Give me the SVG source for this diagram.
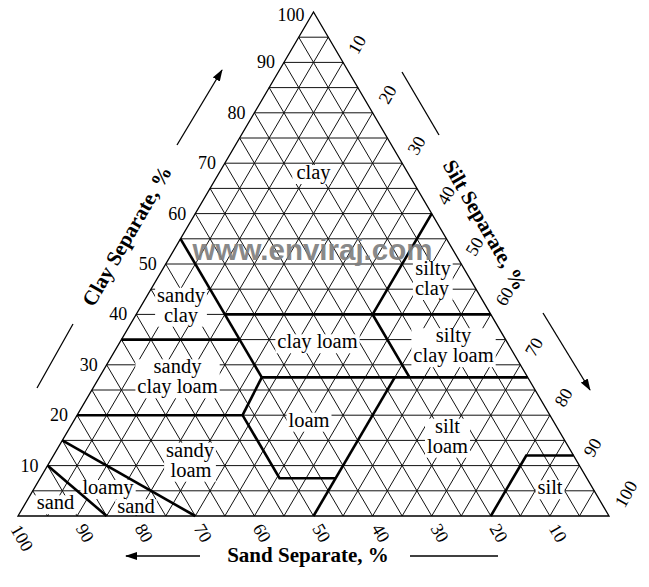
<svg xmlns="http://www.w3.org/2000/svg" width="649" height="587" viewBox="0 0 649 587">
<style>
.grid{fill:none;stroke:#111;stroke-width:1;vector-effect:non-scaling-stroke}
.bold{fill:none;stroke:#000;stroke-width:2.6;stroke-linejoin:miter;vector-effect:non-scaling-stroke}
.edge{fill:none;stroke:#000;stroke-width:1.3;vector-effect:non-scaling-stroke}
.mask{fill:#fff}
.lbl{font-family:"Liberation Serif","Times New Roman",serif;font-size:20.5px;fill:#000;text-anchor:middle}
.num{font-family:"Liberation Serif","Times New Roman",serif;font-size:18px;fill:#000}
.axis{font-family:"Liberation Serif","Times New Roman",serif;font-size:21px;font-weight:bold;fill:#000;text-anchor:middle}
.arr{stroke:#000;stroke-width:1.3;fill:none}
</style>
<defs>
<marker id="ah" viewBox="0 0 12 8" refX="11" refY="4" markerWidth="12" markerHeight="8" markerUnits="userSpaceOnUse" orient="auto">
<path d="M0,0L12,4L0,8Z" fill="#000"/>
</marker>
</defs>
<rect width="649" height="587" fill="#fff"/>
<!-- triangle in (sand%, clay%) coordinates -->
<g id="grid" transform="matrix(-5.91 0 -2.955 -5.04 609 516)">
<path class="grid" d="M95,5L0,5M90,10L0,10M85,15L0,15M80,20L0,20M75,25L0,25M70,30L0,30M65,35L0,35M60,40L0,40M55,45L0,45M50,50L0,50M45,55L0,55M40,60L0,60M35,65L0,65M30,70L0,70M25,75L0,75M20,80L0,80M15,85L0,85M10,90L0,90M5,95L0,95"/>
<path class="grid" d="M5,0L5,95M10,0L10,90M15,0L15,85M20,0L20,80M25,0L25,75M30,0L30,70M35,0L35,65M40,0L40,60M45,0L45,55M50,0L50,50M55,0L55,45M60,0L60,40M65,0L65,35M70,0L70,30M75,0L75,25M80,0L80,20M85,0L85,15M90,0L90,10M95,0L95,5"/>
<path class="grid" d="M95,0L0,95M90,0L0,90M85,0L0,85M80,0L0,80M75,0L0,75M70,0L0,70M65,0L0,65M60,0L0,60M55,0L0,55M50,0L0,50M45,0L0,45M40,0L0,40M35,0L0,35M30,0L0,30M25,0L0,25M20,0L0,20M15,0L0,15M10,0L0,10M5,0L0,5"/>
</g>
<g id="label-masks">
<rect class="mask" x="292.4" y="165" width="38.2" height="19"/>
<rect class="mask" x="412.9" y="261" width="39.8" height="39"/>
<rect class="mask" x="155.1" y="287.7" width="51.8" height="39"/>
<rect class="mask" x="275.4" y="334.3" width="84.3" height="19"/>
<rect class="mask" x="411.4" y="328.2" width="84.3" height="39"/>
<rect class="mask" x="135.4" y="359.3" width="84.3" height="39"/>
<rect class="mask" x="286.5" y="412.7" width="45" height="19"/>
<rect class="mask" x="425" y="418.7" width="45" height="39"/>
<rect class="mask" x="164.1" y="442.7" width="51.8" height="39"/>
<rect class="mask" x="80.4" y="480" width="55.3" height="19"/>
<rect class="mask" x="115.2" y="499.3" width="41.6" height="16"/>
<rect class="mask" x="34.7" y="495.3" width="41.6" height="19"/>
<rect class="mask" x="535.5" y="480.3" width="29.1" height="19"/>
</g>
<g id="boundaries" transform="matrix(-5.91 0 -2.955 -5.04 609 516)">
<path class="edge" d="M100,0L0,0L0,100Z"/>
<path class="bold" d="M90,10L85,0"/>
<path class="bold" d="M85,15L70,0"/>
<path class="bold" d="M80,20L52,20L52,7.5L42.5,7.5"/>
<path class="bold" d="M52,20L45,27.5"/>
<path class="bold" d="M65,35L45,35"/>
<path class="bold" d="M45,55L45,27.5"/>
<path class="bold" d="M45,40L0,40"/>
<path class="bold" d="M0,60L20,40L20,27.5"/>
<path class="bold" d="M45,27.5L0,27.5"/>
<path class="bold" d="M22.5,27.5L50,0"/>
<path class="bold" d="M20,0L8,12L0,12"/>
</g>
<g id="clay"><text class="lbl" x="313.5" y="179">clay</text></g>
<g id="silty-clay"><text class="lbl" x="433" y="275">silty</text><text class="lbl" x="432" y="295">clay</text></g>
<g id="sandy-clay"><text class="lbl" x="181" y="301.7">sandy</text><text class="lbl" x="181" y="321.7">clay</text></g>
<g id="clay-loam"><text class="lbl" x="317.5" y="348.3">clay loam</text></g>
<g id="silty-clay-loam"><text class="lbl" x="453.5" y="342.2">silty</text><text class="lbl" x="453.5" y="362.2">clay loam</text></g>
<g id="sandy-clay-loam"><text class="lbl" x="177.5" y="373.3">sandy</text><text class="lbl" x="177.5" y="393.3">clay loam</text></g>
<g id="loam"><text class="lbl" x="309" y="426.7">loam</text></g>
<g id="silt-loam"><text class="lbl" x="447.5" y="432.7">silt</text><text class="lbl" x="447.5" y="452.7">loam</text></g>
<g id="sandy-loam"><text class="lbl" x="190" y="456.7">sandy</text><text class="lbl" x="191" y="476.7">loam</text></g>
<g id="loamy-sand"><text class="lbl" x="108" y="494">loamy</text><text class="lbl" x="136" y="513.3">sand</text></g>
<g id="sand"><text class="lbl" x="55.5" y="509.3">sand</text></g>
<g id="silt"><text class="lbl" x="550" y="494.3">silt</text></g>
<g id="clay-scale" class="num" text-anchor="end">
<text x="304.5" y="21">100</text>
<text x="275" y="68.4">90</text>
<text x="245.4" y="118.8">80</text>
<text x="215.9" y="169.2">70</text>
<text x="186.3" y="219.6">60</text>
<text x="156.8" y="270">50</text>
<text x="127.2" y="320.4">40</text>
<text x="97.7" y="370.8">30</text>
<text x="68.1" y="421.2">20</text>
<text x="38.5" y="471.6">10</text>
</g>
<g id="sand-scale" class="num" text-anchor="middle">
<text transform="translate(22 538) rotate(60)" y="6">100</text>
<text transform="translate(85 533) rotate(60)" y="6">90</text>
<text transform="translate(144 533) rotate(60)" y="6">80</text>
<text transform="translate(203 533) rotate(60)" y="6">70</text>
<text transform="translate(262 533) rotate(60)" y="6">60</text>
<text transform="translate(321.5 533) rotate(60)" y="6">50</text>
<text transform="translate(380.6 533) rotate(60)" y="6">40</text>
<text transform="translate(439.7 533) rotate(60)" y="6">30</text>
<text transform="translate(498.8 533) rotate(60)" y="6">20</text>
<text transform="translate(558 533) rotate(60)" y="6">10</text>
</g>
<g id="silt-scale" class="num" text-anchor="middle">
<text transform="translate(357 44.4) rotate(-60)" y="6">10</text>
<text transform="translate(387.5 94.5) rotate(-60)" y="6">20</text>
<text transform="translate(416.5 145.5) rotate(-60)" y="6">30</text>
<text transform="translate(446 195.5) rotate(-60)" y="6">40</text>
<text transform="translate(474.5 246.5) rotate(-60)" y="6">50</text>
<text transform="translate(504.5 296.5) rotate(-60)" y="6">60</text>
<text transform="translate(534 347) rotate(-60)" y="6">70</text>
<text transform="translate(563.5 397.5) rotate(-60)" y="6">80</text>
<text transform="translate(592.5 447.5) rotate(-60)" y="6">90</text>
<text transform="translate(626 494) rotate(-60)" y="6">100</text>
</g>
<g id="axis-titles">
<text class="axis" transform="translate(127 236) rotate(-60)" y="7">Clay Separate, %</text>
<text class="axis" transform="translate(485 225) rotate(60)" y="7">Silt Separate, %</text>
<text class="axis" x="308" y="562">Sand Separate, %</text>
</g>
<g id="connectors">
<line class="arr" x1="177" y1="145" x2="222" y2="70" marker-end="url(#ah)"/>
<line class="arr" x1="73" y1="324" x2="37" y2="388"/>
<line class="arr" x1="402" y1="72" x2="439" y2="135"/>
<line class="arr" x1="543" y1="313" x2="590" y2="390" marker-end="url(#ah)"/>
<line class="arr" x1="200" y1="556" x2="126" y2="556" marker-end="url(#ah)"/>
<line class="arr" x1="410" y1="556" x2="498" y2="556" stroke="#555"/>
</g>
<g id="watermark">
<text x="312.5" y="260" text-anchor="middle" font-family="'Liberation Sans',Arial,sans-serif" font-weight="bold" font-size="29.5" fill="#808080" opacity="0.92">www.enviraj.com</text>
</g>
</svg>
